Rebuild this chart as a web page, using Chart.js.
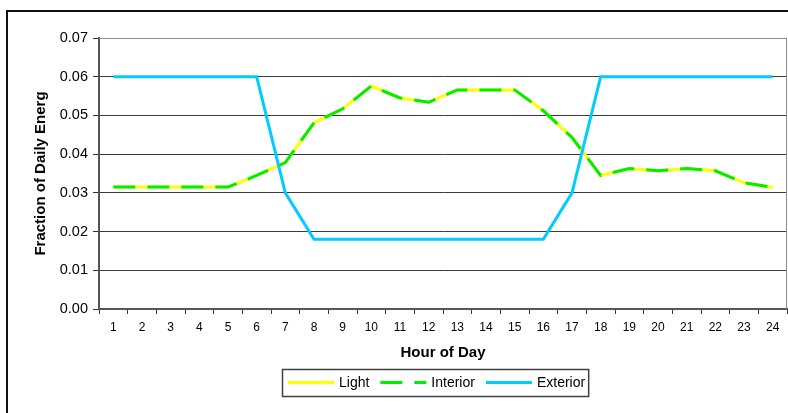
<!DOCTYPE html>
<html>
<head>
<meta charset="utf-8">
<title>Hourly lighting load shape</title>
<script src="https://cdn.jsdelivr.net/npm/chart.js@4.4.1/dist/chart.umd.min.js"></script>
<style>
  html, body { margin: 0; padding: 0; background: #fff; }
  #wrap { width: 788px; height: 413px; }
</style>
</head>
<body>
<div id="wrap"><canvas id="c" width="788" height="413"></canvas></div>
<script>
// Hour of day (category axis)
const hours = ['1','2','3','4','5','6','7','8','9','10','11','12',
               '13','14','15','16','17','18','19','20','21','22','23','24'];

// Fraction of daily energy used in each hour
const lightShare = [0.0315, 0.0315, 0.0315, 0.0315, 0.0315, 0.0345, 0.0378, 0.0481,
                    0.0517, 0.0576, 0.0545, 0.0534, 0.0566, 0.0566, 0.0566, 0.0512,
                    0.0443, 0.0345, 0.0363, 0.0357, 0.0363, 0.0357, 0.0326, 0.0314];
const interiorShare = [0.0315, 0.0315, 0.0315, 0.0315, 0.0315, 0.0345, 0.0378, 0.0481,
                       0.0517, 0.0576, 0.0545, 0.0534, 0.0566, 0.0566, 0.0566, 0.0512,
                       0.0443, 0.0345, 0.0363, 0.0357, 0.0363, 0.0357, 0.0326, 0.0314];
const exteriorShare = [0.060, 0.060, 0.060, 0.060, 0.060, 0.060, 0.030, 0.018,
                       0.018, 0.018, 0.018, 0.018, 0.018, 0.018, 0.018, 0.018,
                       0.030, 0.060, 0.060, 0.060, 0.060, 0.060, 0.060, 0.060];

// Value axis ticks
const yTicks = [0.00, 0.01, 0.02, 0.03, 0.04, 0.05, 0.06, 0.07];

const seriesNames = ['Light', 'Interior', 'Exterior'];
const xTitle = 'Hour of Day';
const yTitle = 'Fraction of Daily Energ';

const FONT = 'Arial, "Liberation Sans", sans-serif';

// Outer frame and plot-area border
const framePlugin = {
  id: 'frame',
  beforeDraw(chart) {
    const ctx = chart.ctx;
    ctx.save();
    ctx.fillStyle = '#fff';
    ctx.fillRect(0, 0, chart.width, chart.height);
    ctx.strokeStyle = '#111';
    ctx.lineWidth = 2;
    ctx.strokeRect(7, 11, chart.width + 40, chart.height + 40);
    ctx.restore();
  },
  beforeDatasetsDraw(chart) {
    const a = chart.chartArea;
    const ctx = chart.ctx;
    ctx.save();
    ctx.strokeStyle = '#8c8c8c';
    ctx.lineWidth = 1;
    ctx.beginPath();
    ctx.moveTo(a.left, a.top + 0.5);
    ctx.lineTo(a.right - 0.5, a.top + 0.5);
    ctx.lineTo(a.right - 0.5, a.bottom);
    ctx.stroke();
    ctx.restore();
  }
};

// Boxed legend below the axis title
const boxLegendPlugin = {
  id: 'boxLegend',
  afterDraw(chart) {
    const ctx = chart.ctx;
    const a = chart.chartArea;
    const sample = 46, gapText = 5, gapItem = 11, padL = 6, padR = 3;
    ctx.save();
    ctx.font = '14px ' + FONT;
    const items = chart.data.datasets.map(ds => ({
      ds, w: ctx.measureText(ds.label).width
    }));
    let total = padL + padR;
    items.forEach((it, i) => { total += sample + gapText + it.w + (i ? gapItem : 0); });
    const cx = (a.left + a.right) / 2 - 8;
    const left = Math.round(cx - total / 2);
    const top = 369, h = 27, midY = top + h / 2;

    ctx.strokeStyle = '#404040';
    ctx.lineWidth = 1.5;
    ctx.strokeRect(left + 0.5, top + 0.5, total, h);

    let x = left + padL;
    items.forEach((it, i) => {
      if (i) x += gapItem;
      ctx.strokeStyle = it.ds.borderColor;
      ctx.lineWidth = it.ds.borderWidth;
      ctx.setLineDash(it.ds.borderDash || []);
      ctx.lineCap = 'butt';
      ctx.beginPath();
      ctx.moveTo(x, midY);
      ctx.lineTo(x + sample, midY);
      ctx.stroke();
      ctx.setLineDash([]);
      x += sample + gapText;
      ctx.fillStyle = '#000';
      ctx.textAlign = 'left';
      ctx.textBaseline = 'middle';
      ctx.fillText(it.ds.label, x, midY + 1);
      x += it.w;
    });
    ctx.restore();
  }
};

new Chart(document.getElementById('c'), {
  type: 'line',
  data: {
    labels: hours,
    datasets: [
      { label: seriesNames[0], data: lightShare, borderColor: '#ffff00', borderWidth: 3,
        order: 2 },
      { label: seriesNames[1], data: interiorShare, borderColor: '#00ee00', borderWidth: 3,
        borderDash: [22, 12], order: 1 },
      { label: seriesNames[2], data: exteriorShare, borderColor: '#00ccff', borderWidth: 3,
        order: 0 }
    ]
  },
  options: {
    responsive: false,
    animation: false,
    devicePixelRatio: 1,
    layout: { padding: { top: 38, left: 0, right: 1, bottom: 44 } },
    elements: {
      line: { tension: 0, fill: false, borderCapStyle: 'butt', borderJoinStyle: 'miter' },
      point: { radius: 0, hoverRadius: 0 }
    },
    plugins: {
      legend: { display: false },
      tooltip: { enabled: false }
    },
    scales: {
      x: {
        type: 'category',
        offset: true,
        grid: {
          offset: true,
          drawOnChartArea: false,
          drawTicks: true,
          tickLength: 5,
          tickColor: '#333',
          tickWidth: 1
        },
        border: { display: true, color: '#555', width: 2 },
        ticks: {
          color: '#000',
          font: { family: FONT, size: 12 },
          padding: 6,
          maxRotation: 0,
          autoSkip: false
        },
        title: {
          display: true,
          text: xTitle,
          color: '#000',
          font: { family: FONT, size: 15, weight: 'bold' },
          padding: { top: 0, bottom: 7 }
        },
        afterFit(scale) { scale.height = 60; }
      },
      y: {
        min: yTicks[0],
        max: yTicks[yTicks.length - 1],
        afterBuildTicks(scale) { scale.ticks = yTicks.map(v => ({ value: v })); },
        grid: {
          color: '#3a3a3a',
          lineWidth: 1,
          drawTicks: true,
          tickLength: 6,
          tickColor: '#333'
        },
        border: { display: true, color: '#555', width: 2 },
        ticks: {
          color: '#000',
          font: { family: FONT, size: 14.5 },
          padding: 5,
          callback: v => Number(v).toFixed(2)
        },
        title: {
          display: true,
          text: yTitle,
          color: '#000',
          font: { family: FONT, size: 15, weight: 'bold' },
          padding: { top: 32, bottom: 0 }
        },
        afterFit(scale) { scale.width = 99; }
      }
    }
  },
  plugins: [framePlugin, boxLegendPlugin]
});
</script>
</body>
</html>
